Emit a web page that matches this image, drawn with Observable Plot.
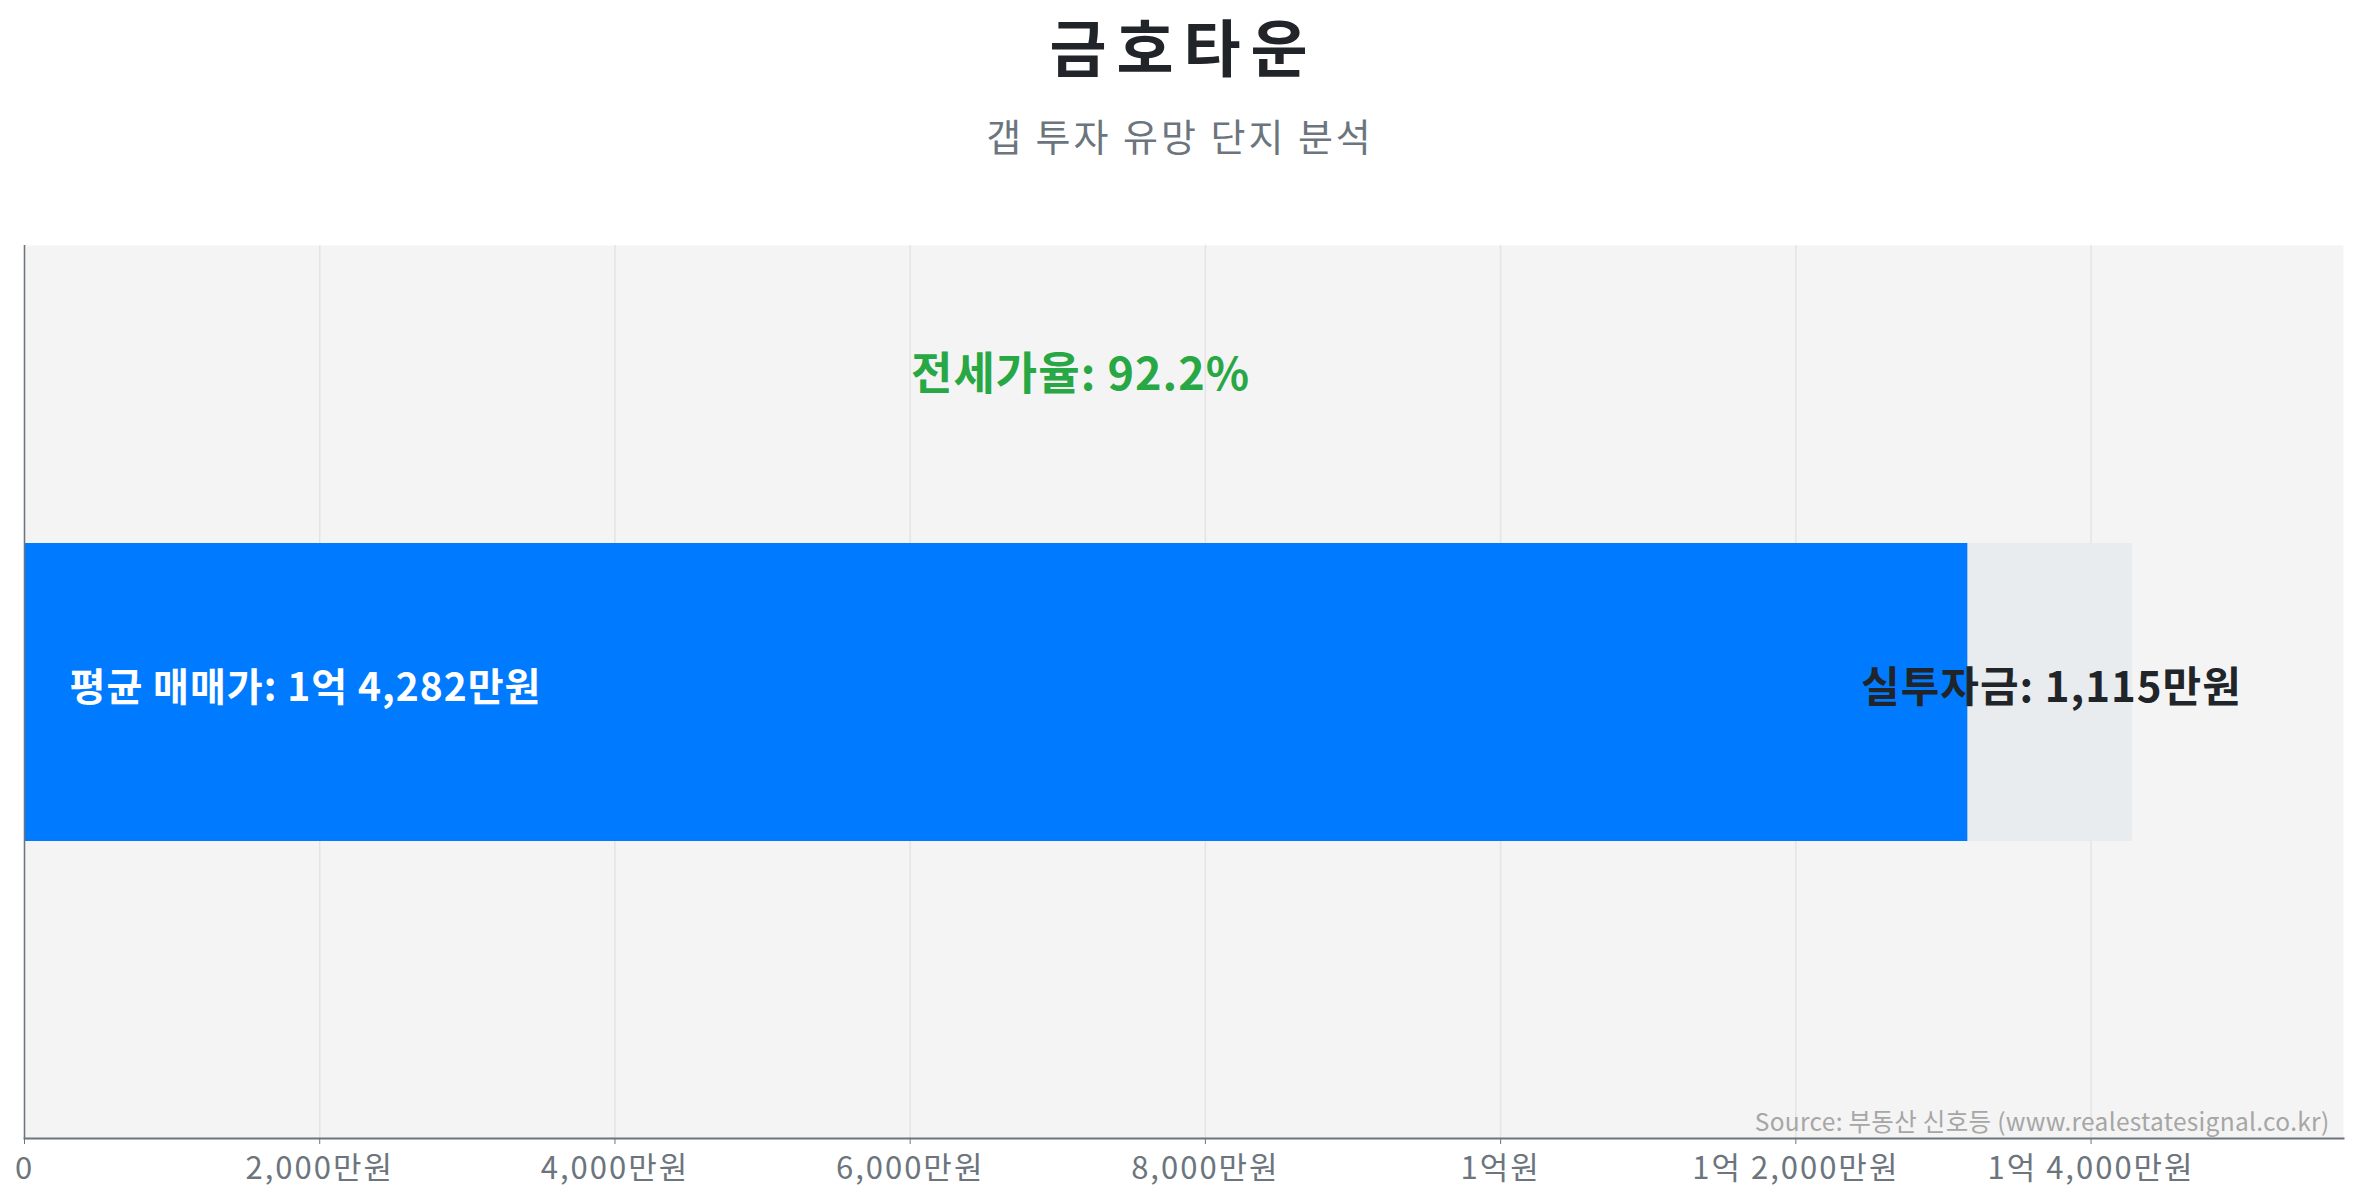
<!DOCTYPE html>
<html>
<head>
<meta charset="utf-8">
<script src="https://cdn.jsdelivr.net/npm/d3@7"></script>
<script src="https://cdn.jsdelivr.net/npm/@observablehq/plot@0.6"></script>
<style>
  html, body { margin: 0; padding: 0; background: #ffffff; }
  body { width: 2357px; height: 1200px; overflow: hidden; font-family: "Noto Sans CJK KR", "Noto Sans", sans-serif; }
  #title { position: absolute; left: 0; top: 0; width: 2357px; text-align: center; line-height: normal;
           font-size: 62px; font-weight: 700; color: #212529; letter-spacing: 10px; text-indent: 10px; }
  #subtitle { position: absolute; left: 0; top: 106px; width: 2357px; height: 58px; line-height: 58px; text-align: center;
              font-size: 38px; font-weight: 400; color: #6c757d; letter-spacing: 3px; text-indent: 3px; }
  #chart { position: absolute; left: 0; top: 167px; }
  #chart g[aria-label="x-axis tick label"] text { letter-spacing: 2px; }
  #chart g[aria-label="text"] text { letter-spacing: 1px; }
  #chart g[aria-label="text"] text.source { letter-spacing: 0.3px; }
</style>
</head>
<body>
<div id="title">금호타운</div>
<div id="subtitle">갭 투자 유망 단지 분석</div>
<div id="chart"></div>
<script>
// ---- data (단위: 만원) ----
const complexes = ["금호타운"];
const salePrices = [14282];      // 평균 매매가
const gapAmounts = [1115];       // 실투자금
const jeonseRatios = [92.2];     // 전세가율 (%)
const xTicks = [0, 2000, 4000, 6000, 8000, 10000, 12000, 14000];
const sourceText = "Source: 부동산 신호등 (www.realestatesignal.co.kr)";

const rows = complexes.map((name, i) => ({
  name,
  price: salePrices[i],
  gap: gapAmounts[i],
  jeonse: salePrices[i] - gapAmounts[i],
  ratio: jeonseRatios[i]
}));

function fmtMan(v) {
  if (v === 0) return "0";
  const eok = Math.floor(v / 10000);
  const man = v % 10000;
  if (eok === 0) return d3.format(",")(man) + "만원";
  if (man === 0) return eok + "억원";
  return eok + "억 " + d3.format(",")(man) + "만원";
}

const xMax = d3.max(rows, d => d.price) * 1.1;

const chart = Plot.plot({
  width: 2357,
  height: 1033,
  marginTop: 78,
  marginBottom: 62,
  marginLeft: 24,
  marginRight: 14,
  style: { fontFamily: "'Noto Sans CJK KR', 'Noto Sans', sans-serif", fontSize: "31px", color: "#6c757d", background: "transparent" },
  x: { domain: [0, xMax], nice: false },
  y: { domain: complexes, padding: 0.5, axis: null },
  marks: [
    Plot.frame({ fill: "#f4f4f4", stroke: null }),
    Plot.gridX(xTicks, { stroke: "#e4e4e4", strokeOpacity: 1, strokeWidth: 1.5 }),
    Plot.barX(rows, { y: "name", x1: 0, x2: "jeonse", fill: "#007bff" }),
    Plot.barX(rows, { y: "name", x1: "jeonse", x2: "price", fill: "#e9ecef" }),
    Plot.ruleX([0], { stroke: "#6c757d", strokeWidth: 1.5 }),
    Plot.frame({ anchor: "bottom", stroke: "#6c757d", strokeWidth: 2, strokeOpacity: 1 }),
    Plot.axisX(xTicks, { tickFormat: fmtMan, tickSize: 6, tickPadding: 12, stroke: "#6c757d", fill: "#6c757d", fontSize: 31 }),
    Plot.text(rows, { x: 0, y: "name", text: d => "평균 매매가: " + fmtMan(d.price), textAnchor: "start", dx: 45, dy: -4,
                      fill: "white", fontWeight: "bold", fontSize: 39 }),
    Plot.text(rows, { x: d => (d.jeonse + d.price) / 2, y: "name", text: d => "실투자금: " + fmtMan(d.gap),
                      textAnchor: "middle", dx: 1, dy: -4, fill: "#212529", fontWeight: "bold", fontSize: 42 }),
    Plot.text(rows, { x: d => d.price / 2, y: "name", text: d => "전세가율: " + d.ratio.toFixed(1) + "%",
                      textAnchor: "middle", dx: 2, dy: -317, fill: "#28a745", fontWeight: "bold", fontSize: 45 }),
    Plot.text([sourceText], { frameAnchor: "bottom-right", text: d => d, lineAnchor: "middle", dx: -14, dy: -15,
                              fill: "#a6a6a6", fontSize: 24.5 })
  ]
});
d3.select(chart).selectAll('g[aria-label="text"]').filter((d, i, n) => i === n.length - 1)
  .selectAll("text").classed("source", true);
document.getElementById("chart").appendChild(chart);
</script>
</body>
</html>
